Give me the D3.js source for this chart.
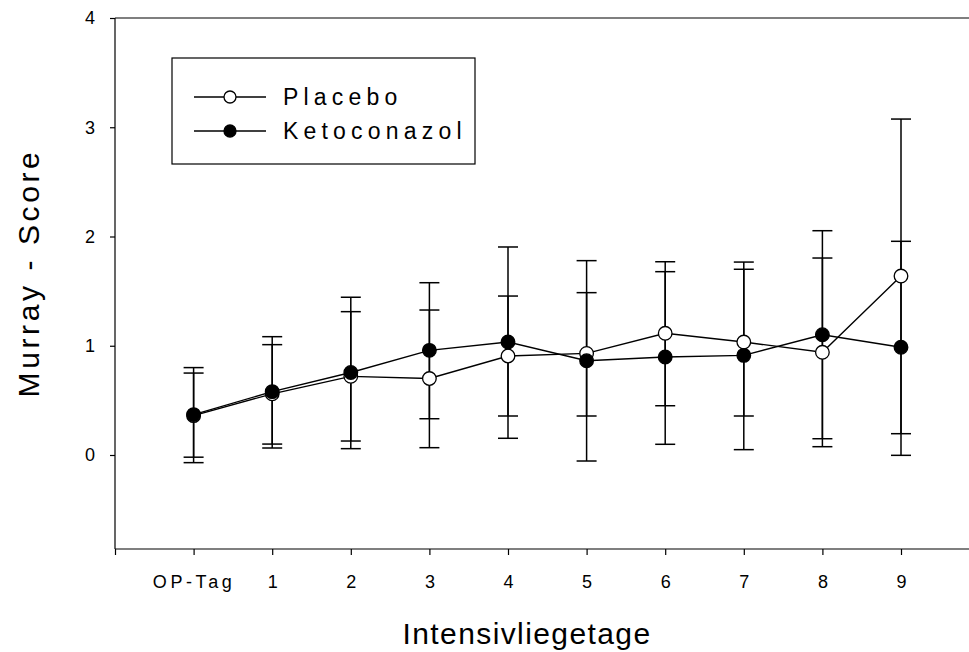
<!DOCTYPE html>
<html>
<head>
<meta charset="utf-8">
<script src="https://cdn.jsdelivr.net/npm/d3@7"></script>
<style>
  html, body { margin: 0; padding: 0; background: #fff; }
  svg { display: block; }
  text { font-family: "Liberation Sans", Arial, sans-serif; fill: #000; }
</style>
</head>
<body>
<svg id="chart" width="969" height="652"></svg>
<script>
// ---- data ----
const categories = ["OP-Tag", "1", "2", "3", "4", "5", "6", "7", "8", "9"];
const seriesNames = ["Placebo", "Ketoconazol"];
const placeboMean  = [0.36, 0.56, 0.72, 0.70, 0.906, 0.93, 1.114, 1.034, 0.94, 1.638];
const placeboUpper = [0.75, 1.01, 1.312, 1.327, 1.455, 1.486, 1.769, 1.70, 1.803, 3.075];
const placeboLower = [-0.02, 0.10, 0.128, 0.067, 0.357, 0.357, 0.451, 0.357, 0.076, 0.195];
const ketoMean  = [0.37, 0.58, 0.755, 0.958, 1.034, 0.863, 0.897, 0.912, 1.101, 0.986];
const ketoUpper = [0.80, 1.083, 1.444, 1.577, 1.904, 1.779, 1.678, 1.766, 2.053, 1.956];
const ketoLower = [-0.07, 0.064, 0.058, 0.332, 0.153, -0.055, 0.098, 0.049, 0.149, -0.003];
const yTicks = [0, 1, 2, 3, 4];

// ---- layout ----
const svg = d3.select("#chart");
const axisLeft = 115, axisTop = 18, axisBottom = 549;

const x = d3.scaleLinear().domain([-1, 9]).range([115, 901]);
const y = d3.scaleLinear().domain([0, 4]).range([455, 18]);

// top frame line
svg.append("line").attr("x1", axisLeft).attr("x2", 969).attr("y1", axisTop).attr("y2", axisTop)
  .attr("stroke", "#000").attr("stroke-width", 1.2);

// y axis
const yAxisG = svg.append("g").attr("transform", `translate(${axisLeft},0)`)
  .call(d3.axisLeft(y).tickValues(yTicks).tickSize(5).tickPadding(15).tickFormat(d3.format("d")));
yAxisG.select(".domain").remove();
yAxisG.append("line").attr("x1", 0).attr("x2", 0).attr("y1", axisTop).attr("y2", axisBottom)
  .attr("stroke", "#000").attr("stroke-width", 1.2);
yAxisG.selectAll(".tick line").attr("stroke", "#000").attr("stroke-width", 1.2);
yAxisG.selectAll(".tick text").attr("font-size", 18).attr("font-family", "Liberation Sans, Arial, sans-serif");

// x axis
const xAxisG = svg.append("g").attr("transform", `translate(0,${axisBottom})`)
  .call(d3.axisBottom(x).tickValues(d3.range(-1, 10)).tickSize(6).tickPadding(20)
    .tickFormat(i => i >= 0 ? categories[i] : ""));
xAxisG.select(".domain").remove();
xAxisG.append("line").attr("x1", axisLeft).attr("x2", 969).attr("y1", 0).attr("y2", 0)
  .attr("stroke", "#000").attr("stroke-width", 1.2);
xAxisG.selectAll(".tick line").attr("stroke", "#000").attr("stroke-width", 1.2);
xAxisG.selectAll(".tick text").attr("font-size", 18)
  .attr("letter-spacing", d => (d === -1 || d === 0) ? "3.6px" : "0px")
  .attr("font-family", "Liberation Sans, Arial, sans-serif");

// axis titles
svg.append("text").attr("x", 527).attr("y", 644).attr("text-anchor", "middle")
  .attr("font-size", 30).attr("letter-spacing", "1.4px").text("Intensivliegetage");
svg.append("text").attr("transform", "translate(39,273) rotate(-90)").attr("text-anchor", "middle")
  .attr("font-size", 30).attr("letter-spacing", "3.6px").text("Murray - Score");

// ---- series ----
const series = [
  { name: seriesNames[0], mean: placeboMean, upper: placeboUpper, lower: placeboLower, fill: "#fff" },
  { name: seriesNames[1], mean: ketoMean, upper: ketoUpper, lower: ketoLower, fill: "#000" }
];
const capW = 10;

series.forEach(s => {
  const g = svg.append("g");
  d3.range(categories.length).forEach(i => {
    const cx = x(i);
    g.append("line").attr("x1", cx).attr("x2", cx).attr("y1", y(s.upper[i])).attr("y2", y(s.lower[i]))
      .attr("stroke", "#000").attr("stroke-width", 1.5);
    [s.upper[i], s.lower[i]].forEach(v => {
      g.append("line").attr("x1", cx - capW).attr("x2", cx + capW).attr("y1", y(v)).attr("y2", y(v))
        .attr("stroke", "#000").attr("stroke-width", 1.5);
    });
  });
});

series.forEach(s => {
  const idx = d3.range(categories.length);
  const line = d3.line().x(i => x(i)).y(i => y(s.mean[i]));
  svg.append("path").attr("d", line(idx)).attr("fill", "none").attr("stroke", "#000").attr("stroke-width", 1.4);
});

series.forEach(s => {
  const idx = d3.range(categories.length);
  svg.append("g").selectAll("circle").data(idx).join("circle")
    .attr("cx", i => x(i)).attr("cy", i => y(s.mean[i])).attr("r", 6.8)
    .attr("fill", s.fill).attr("stroke", "#000").attr("stroke-width", 1.3);
});

// ---- legend ----
const leg = svg.append("g");
leg.append("rect").attr("x", 172).attr("y", 58).attr("width", 303).attr("height", 106)
  .attr("fill", "none").attr("stroke", "#000").attr("stroke-width", 1.2);
series.forEach((s, k) => {
  const ly = 97 + k * 34;
  leg.append("line").attr("x1", 194).attr("x2", 266).attr("y1", ly).attr("y2", ly)
    .attr("stroke", "#000").attr("stroke-width", 1.3);
  leg.append("circle").attr("cx", 230).attr("cy", ly).attr("r", 6).attr("fill", s.fill)
    .attr("stroke", "#000").attr("stroke-width", 1.3);
  leg.append("text").attr("x", 283).attr("y", ly + 8).attr("font-size", 23)
    .attr("letter-spacing", "5.2px").text(s.name);
});
</script>
</body>
</html>
